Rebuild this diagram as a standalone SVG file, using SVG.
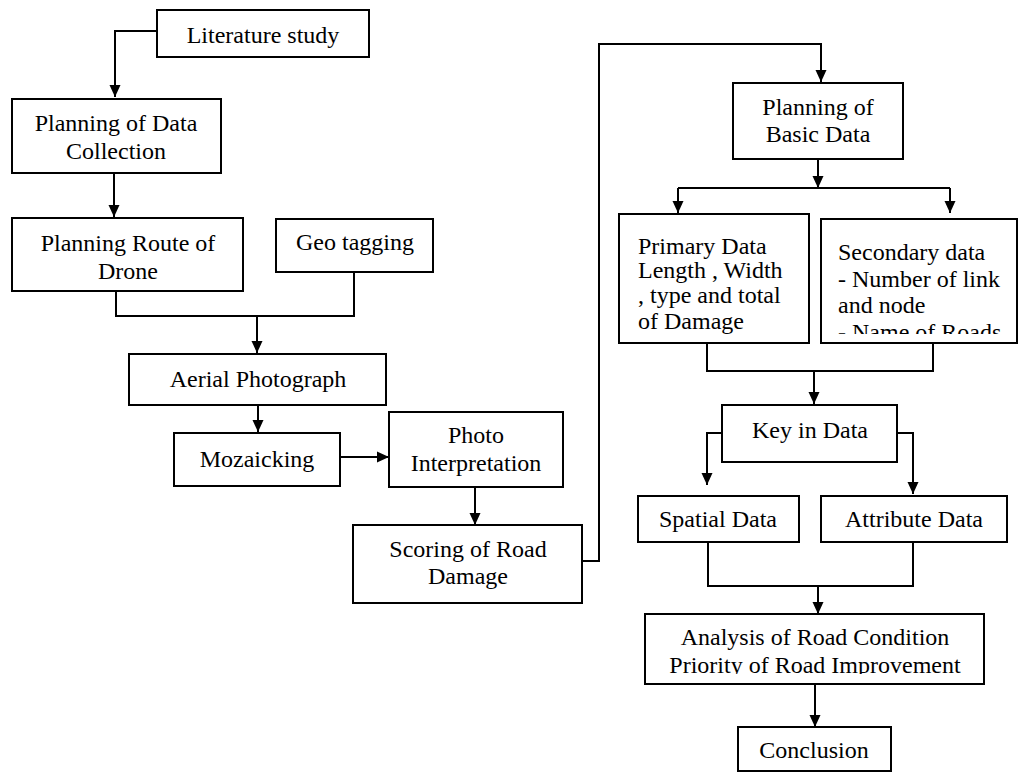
<svg xmlns="http://www.w3.org/2000/svg" width="1018" height="774" viewBox="0 0 1018 774">
<style>
.box{fill:#fff;stroke:#000;stroke-width:2}
.t{font-family:"Liberation Serif","Times New Roman",serif;font-size:24px;fill:#000}
.c{text-anchor:middle}
.ln{fill:none;stroke:#000;stroke-width:2}
</style>
<defs>
<marker id="ah" markerUnits="userSpaceOnUse" markerWidth="12" markerHeight="12" refX="12" refY="5.5" orient="auto" viewBox="0 0 12 11">
<path d="M0,0 L12,5.5 L0,11 z" fill="#000"/>
</marker>
<clipPath id="clipP"><rect x="619" y="214" width="190" height="120"/></clipPath>
<clipPath id="clipS"><rect x="821" y="219" width="196" height="115"/></clipPath>
<clipPath id="clipA"><rect x="645" y="614" width="339" height="60"/></clipPath>
</defs>
<rect width="1018" height="774" fill="#fff"/>
<g id="connectors">
<path class="ln" d="M157,31 H115 V97" marker-end="url(#ah)"/>
<path class="ln" d="M114,173 V217" marker-end="url(#ah)"/>
<path class="ln" d="M116,291 V316 H354 V272"/>
<path class="ln" d="M257,316 V353" marker-end="url(#ah)"/>
<path class="ln" d="M258,405 V432" marker-end="url(#ah)"/>
<path class="ln" d="M340,457 H389" marker-end="url(#ah)"/>
<path class="ln" d="M475,487 V525" marker-end="url(#ah)"/>
<path class="ln" d="M582,561 H599 V44 H821 V82" marker-end="url(#ah)"/>
<path class="ln" d="M818,159 V188" marker-end="url(#ah)"/>
<path class="ln" d="M678,188 H950"/>
<path class="ln" d="M678,188 V213" marker-end="url(#ah)"/>
<path class="ln" d="M950,188 V213" marker-end="url(#ah)"/>
<path class="ln" d="M707,343 V371 H933 V343"/>
<path class="ln" d="M814,371 V404" marker-end="url(#ah)"/>
<path class="ln" d="M722,433 H707 V485" marker-end="url(#ah)"/>
<path class="ln" d="M897,433 H913 V494" marker-end="url(#ah)"/>
<path class="ln" d="M708,542 V586 H913 V542"/>
<path class="ln" d="M818,586 V614" marker-end="url(#ah)"/>
<path class="ln" d="M815,684 V727" marker-end="url(#ah)"/>
</g>
<g id="literature">
<rect class="box" x="157" y="10" width="212" height="47"/>
<text class="t c" x="263" y="43">Literature study</text>
</g>
<g id="planning-data-collection">
<rect class="box" x="12" y="99" width="209" height="74"/>
<text class="t c" x="116" y="131">Planning of Data</text>
<text class="t c" x="116" y="159">Collection</text>
</g>
<g id="planning-route">
<rect class="box" x="12" y="218" width="231" height="73"/>
<text class="t c" x="128" y="251">Planning Route of</text>
<text class="t c" x="128" y="279">Drone</text>
</g>
<g id="geo-tagging">
<rect class="box" x="276" y="219" width="157" height="53"/>
<text class="t c" x="355" y="250">Geo tagging</text>
</g>
<g id="aerial">
<rect class="box" x="129" y="354" width="257" height="51"/>
<text class="t c" x="258" y="387">Aerial Photograph</text>
</g>
<g id="mozaicking">
<rect class="box" x="174" y="433" width="166" height="53"/>
<text class="t c" x="257" y="467">Mozaicking</text>
</g>
<g id="photo-interpretation">
<rect class="box" x="389" y="412" width="174" height="75"/>
<text class="t c" x="476" y="443">Photo</text>
<text class="t c" x="476" y="471">Interpretation</text>
</g>
<g id="scoring">
<rect class="box" x="353" y="525" width="229" height="78"/>
<text class="t c" x="468" y="557">Scoring of Road</text>
<text class="t c" x="468" y="584">Damage</text>
</g>
<g id="planning-basic">
<rect class="box" x="733" y="83" width="170" height="76"/>
<text class="t c" x="818" y="115">Planning of</text>
<text class="t c" x="818" y="142">Basic Data</text>
</g>
<g id="primary">
<rect class="box" x="619" y="214" width="190" height="129"/>
<g clip-path="url(#clipP)">
<text class="t" x="638" y="254">Primary Data</text>
<text class="t" x="638" y="278">Length , Width</text>
<text class="t" x="638" y="303">, type and total</text>
<text class="t" x="638" y="329">of Damage</text>
</g>
</g>
<g id="secondary">
<rect class="box" x="821" y="219" width="196" height="124"/>
<g clip-path="url(#clipS)">
<text class="t" x="838" y="260">Secondary data</text>
<text class="t" x="838" y="287">- Number of link</text>
<text class="t" x="838" y="313">and node</text>
<text class="t" x="838" y="340">- Name of Roads</text>
</g>
</g>
<g id="key-in">
<rect class="box" x="722" y="405" width="175" height="57"/>
<text class="t c" x="810" y="438">Key in Data</text>
</g>
<g id="spatial">
<rect class="box" x="638" y="496" width="161" height="46"/>
<text class="t c" x="718" y="527">Spatial Data</text>
</g>
<g id="attribute">
<rect class="box" x="821" y="496" width="186" height="46"/>
<text class="t c" x="914" y="527">Attribute Data</text>
</g>
<g id="analysis">
<rect class="box" x="645" y="614" width="339" height="70"/>
<g clip-path="url(#clipA)">
<text class="t c" x="815" y="645">Analysis of Road Condition</text>
<text class="t c" x="815" y="673">Priority of Road Improvement</text>
</g>
</g>
<g id="conclusion">
<rect class="box" x="738" y="727" width="153" height="44"/>
<text class="t c" x="814" y="758">Conclusion</text>
</g>
</svg>
